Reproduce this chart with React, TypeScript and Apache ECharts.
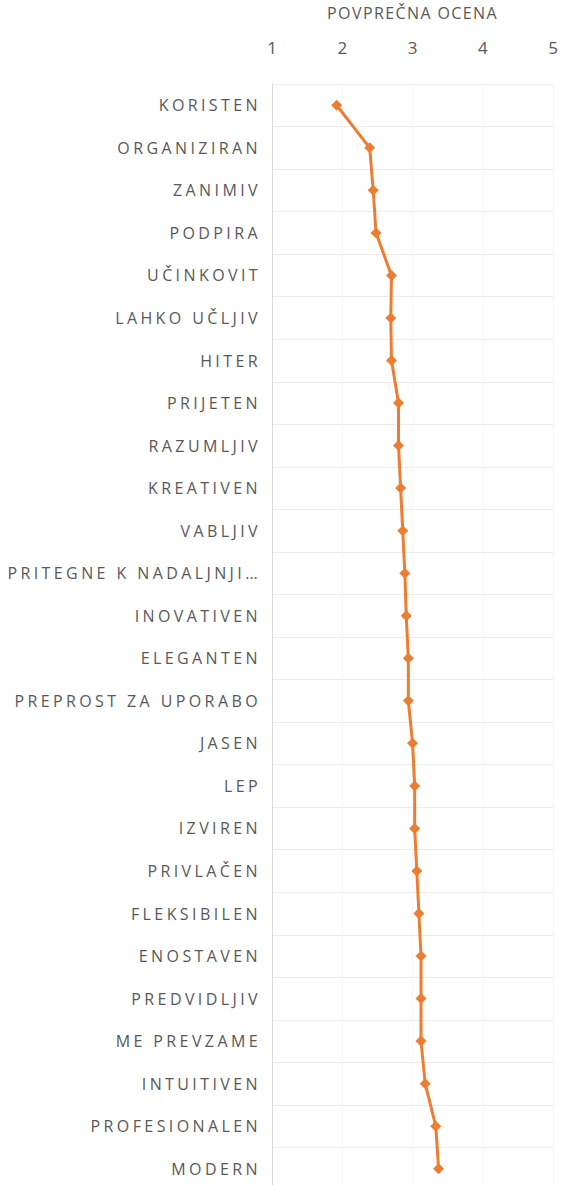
import React, { useEffect, useRef } from "react";
import * as echarts from "echarts";

const categories = [
  "KORISTEN", "ORGANIZIRAN", "ZANIMIV", "PODPIRA", "UČINKOVIT", "LAHKO UČLJIV",
  "HITER", "PRIJETEN", "RAZUMLJIV", "KREATIVEN", "VABLJIV", "PRITEGNE K NADALJNJI…",
  "INOVATIVEN", "ELEGANTEN", "PREPROST ZA UPORABO", "JASEN", "LEP", "IZVIREN",
  "PRIVLAČEN", "FLEKSIBILEN", "ENOSTAVEN", "PREDVIDLJIV", "ME PREVZAME",
  "INTUITIVEN", "PROFESIONALEN", "MODERN",
];
const values = [
  1.92, 2.39, 2.44, 2.48, 2.7, 2.69, 2.7, 2.8, 2.8, 2.83, 2.86, 2.89, 2.91,
  2.94, 2.94, 3.0, 3.03, 3.03, 3.06, 3.09, 3.12, 3.12, 3.12, 3.18, 3.33, 3.37,
];
const axisName = "POVPREČNA OCENA";

export default function App() {
  const ref = useRef<HTMLDivElement>(null);
  useEffect(() => {
    if (!ref.current) return;
    const chart = echarts.init(ref.current, undefined, { renderer: "svg" });
    chart.setOption({
      animation: false,
      backgroundColor: "#ffffff",
      grid: { left: 272, right: 7, top: 84, bottom: 0, containLabel: false },
      xAxis: {
        type: "value",
        position: "top",
        min: 1,
        max: 5,
        interval: 1,
        name: axisName,
        nameLocation: "middle",
        nameGap: 63,
        nameTextStyle: { color: "#595959", fontSize: 16, fontFamily: "Open Sans" },
        axisLine: { show: false },
        axisTick: { show: false },
        axisLabel: { color: "#595959", fontSize: 17, fontFamily: "Open Sans", margin: 28 },
        splitLine: { show: true, lineStyle: { color: "#f7f7f7", width: 1 } },
      },
      yAxis: {
        type: "category",
        inverse: true,
        data: categories,
        boundaryGap: true,
        axisLine: { show: true, lineStyle: { color: "#d9d9d9", width: 1 } },
        axisTick: { show: false },
        axisLabel: {
          color: "#595959",
          fontSize: 16,
          fontFamily: "Open Sans",
          margin: 11,
          interval: 0,
        },
        splitLine: { show: true, lineStyle: { color: "#ebebeb", width: 1 } },
      },
      series: [
        {
          type: "line",
          data: values,
          symbol: "diamond",
          symbolSize: 11,
          itemStyle: { color: "#ED7D31" },
          lineStyle: { color: "#ED7D31", width: 3 },
        },
      ],
    });
    const applySpacing = () => {
      const texts = ref.current?.querySelectorAll("text") || [];
      texts.forEach((t: any) => {
        const s = t.textContent || "";
        if (/^[1-5]$/.test(s)) return;
        if (s === axisName) t.setAttribute("letter-spacing", "1.4");
        else t.setAttribute("letter-spacing", "3.4");
      });
    };
    applySpacing();
    chart.on("finished", applySpacing);
    return () => chart.dispose();
  }, []);
  return (
    <div
      style={{
        position: "absolute",
        left: 0,
        top: 0,
        width: 561,
        height: 1185,
        overflow: "hidden",
      }}
    >
      <div ref={ref} style={{ width: 561, height: 1190 }} />
    </div>
  );
}
